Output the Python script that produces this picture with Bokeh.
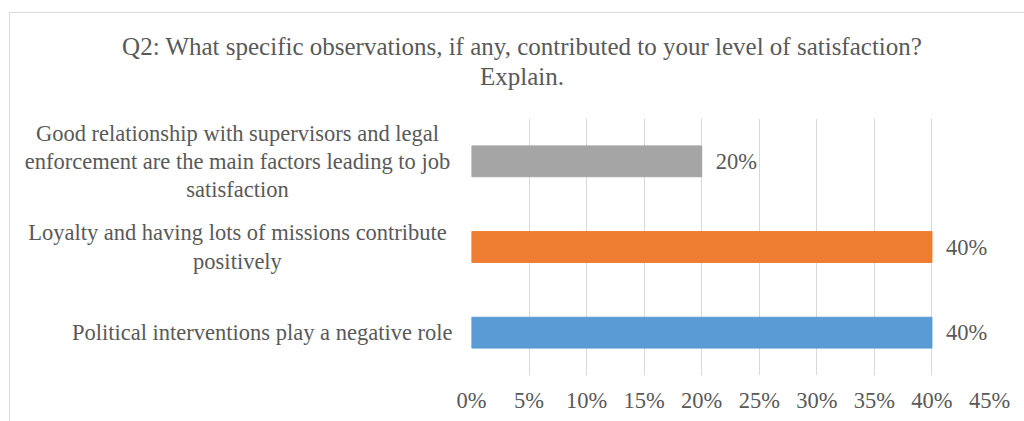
from bokeh.plotting import figure
from bokeh.models import Range1d, FixedTicker, FactorRange, ColumnDataSource, Div
from bokeh.layouts import column, row
from bokeh.embed import file_html
from bokeh.resources import INLINE

# ---- data ----
categories = [
    "Political interventions play a negative role",
    "Loyalty and having lots of missions contribute\npositively",
    "Good relationship with supervisors and legal\nenforcement are the main factors leading to job\nsatisfaction",
]
values = [0.40, 0.40, 0.20]
value_labels = ["40%", "40%", "20%"]
bar_colors = ["#5B9BD5", "#ED7D31", "#A5A5A5"]
tick_values = [0, 0.05, 0.10, 0.15, 0.20, 0.25, 0.30, 0.35, 0.40, 0.45]
tick_labels = ["0%", "5%", "10%", "15%", "20%", "25%", "30%", "35%", "40%", "45%"]
title_lines = ["Q2: What specific observations, if any, contributed to your level of satisfaction?",
               "Explain."]

FONT = "Liberation Serif"
TXT = "#595959"
GRID = "#D9D9D9"
FS = "22.5px"

# ---- title ----
title = Div(text="<br>".join(title_lines), width=1014, height=105,
            styles={"font-family": FONT, "font-size": "25px", "color": TXT,
                    "text-align": "center", "line-height": "30px",
                    "padding-top": "19px", "padding-left": "10px",
                    "box-sizing": "border-box", "margin": "0"})

yr = FactorRange(factors=categories)

# ---- main chart ----
p = figure(width=568, height=303, output_backend="svg", toolbar_location=None,
           x_range=Range1d(0, 0.45), y_range=yr,
           min_border_left=15, min_border_right=35, min_border_top=0, min_border_bottom=46)
p.outline_line_color = None
p.border_fill_color = "white"

src = ColumnDataSource(dict(cat=categories, v=values, c=bar_colors, lab=value_labels))
p.hbar(y="cat", right="v", left=0, height=0.36, color="c", source=src)
p.text(x="v", y="cat", text="lab", source=src, x_offset=14, text_align="left",
       text_baseline="middle", text_font="Liberation Serif", text_font_size=FS, text_color=TXT)

p.yaxis.visible = False
p.ygrid.visible = False
p.xgrid.ticker = FixedTicker(ticks=tick_values)
p.xgrid.grid_line_color = GRID
p.xgrid.grid_line_width = 1
xa = p.xaxis[0]
xa.ticker = FixedTicker(ticks=tick_values)
xa.major_label_overrides = {t: l for t, l in zip(tick_values, tick_labels)}
xa.axis_line_color = None
xa.major_tick_line_color = None
xa.minor_tick_line_color = None
xa.major_tick_out = 0
xa.major_tick_in = 0
xa.major_label_standoff = 12
xa.major_label_text_font = FONT
xa.major_label_text_font_size = FS
xa.major_label_text_color = TXT

# ---- category labels panel (shares the category scale) ----
lf = figure(width=446, height=303, output_backend="svg", toolbar_location=None,
            x_range=Range1d(0, 446), y_range=yr,
            min_border_left=0, min_border_right=0, min_border_top=0, min_border_bottom=46)
lf.outline_line_color = None
lf.xaxis.visible = False
lf.yaxis.visible = False
lf.grid.visible = False
lab_x = [227 if "\n" in c else 442 for c in categories]
lab_align = ["center" if "\n" in c else "right" for c in categories]
lsrc = ColumnDataSource(dict(cat=categories, x=lab_x, al=lab_align))
lf.text(x="x", y="cat", text="cat", text_align="al", source=lsrc, text_baseline="middle",
        text_font="Liberation Serif", text_font_size=FS, text_color=TXT, text_line_height=1.13)

layout = column(title, row(lf, p, spacing=0), spacing=0)
layout.styles = {"margin-left": "9px", "margin-top": "12px",
                 "border-left": "1px solid #D9D9D9", "border-top": "1px solid #D9D9D9"}

open("out.html", "w").write(file_html(layout, INLINE))
